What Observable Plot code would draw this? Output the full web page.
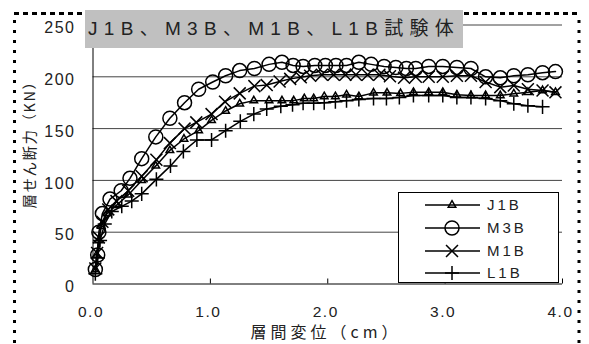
<!DOCTYPE html>
<html><head><meta charset="utf-8">
<script src="https://cdn.jsdelivr.net/npm/d3@7"></script>
<script src="https://cdn.jsdelivr.net/npm/@observablehq/plot@0.6"></script>
<style>
html,body{margin:0;padding:0;background:#fff;}
#wrap{position:relative;width:589px;height:344px;overflow:hidden;}
#wrap > svg, #wrap > div{position:absolute;left:0;top:0;}
</style></head><body><div id="wrap"></div>
<script>
const seriesNames = ["J1B", "M3B", "M1B", "L1B"];
const legendLabels = ["J1B", "M3B", "M1B", "L1B"];
const titleText = "J1B、M3B、M1B、L1B試験体";
const xLabel = "層間変位（cm）";
const yLabel = "層せん断力（KN）";
const xTicks = [0, 1, 2, 3, 4];
const yTicks = [0, 50, 100, 150, 200, 250];

const j1bDisp = [0.02,0.03,0.05,0.07,0.12,0.2,0.3,0.415,0.535,0.655,0.775,0.9,1.01,1.13,1.25,1.37,1.5,1.61,1.71,1.8,1.88,1.97,2.065,2.16,2.265,2.39,2.505,2.62,2.73,2.86,2.98,3.1,3.22,3.345,3.47,3.585,3.705,3.83,3.94];
const j1bLoad = [14,28,42,56,68,76,86,100,114,129,140,148,158,167,174,177,177,177,177,179,179,181,181,182.6,181,184.5,184.5,184,185,185,185,182.6,182,182,182,183.6,185,186.8,185];

const m3bDisp = [0.02,0.04,0.05,0.08,0.145,0.24,0.315,0.415,0.535,0.655,0.78,0.9,1.02,1.13,1.25,1.375,1.5,1.61,1.705,1.79,1.89,1.98,2.07,2.16,2.265,2.37,2.48,2.58,2.67,2.75,2.86,2.98,3.1,3.22,3.345,3.47,3.585,3.705,3.83,3.94];
const m3bLoad = [14,28,50,68,82,90,102,121,142,160,175,188,195,201,206,208,212,214,211,210,211,211,211,211,214,212,210,209,208,208,210,210,209,208,200,199,201,202,204,205];

const m1bDisp = [0.02,0.035,0.05,0.08,0.13,0.2,0.3,0.415,0.54,0.655,0.78,0.88,1.01,1.125,1.25,1.375,1.48,1.59,1.68,1.77,1.85,1.95,2.05,2.15,2.24,2.34,2.44,2.53,2.65,2.75,2.86,2.98,3.1,3.22,3.345,3.47,3.585,3.705,3.83,3.94];
const m1bLoad = [15,30,45,60,72,80,90,104,120,136,150,156,164,176,184,191,192,195.5,198,199.6,201,202,202,202,202,202,202,200.6,199,200,200,200,201,201,195,190,191.6,188,186.8,185];

const l1bDisp = [0.02,0.04,0.06,0.1,0.16,0.245,0.33,0.415,0.54,0.66,0.77,0.885,1.01,1.13,1.255,1.37,1.48,1.6,1.7,1.79,1.88,1.97,2.065,2.16,2.265,2.39,2.5,2.61,2.73,2.86,2.98,3.1,3.22,3.345,3.47,3.585,3.705,3.83];
const l1bLoad = [10,25,42,58,70,75,80,87,101,114,128,139,139,148,157,164,169,171.6,173,174.5,174.5,175,176,177,178,179,179,180,182,182,182,180,180,179,177,174,172,171];

const seriesData = [[j1bDisp, j1bLoad], [m3bDisp, m3bLoad], [m1bDisp, m1bLoad], [l1bDisp, l1bLoad]];
const rows = [];
seriesData.forEach(([ds, fs], i) => ds.forEach((d, k) => rows.push({s: seriesNames[i], d, F: fs[k]})));

const symStyle = {
  J1B: {symbol: "triangle", r: 2.8},
  M3B: {symbol: "circle", r: 7},
  M1B: {symbol: "times", r: 5.5},
  L1B: {symbol: "plus", r: 4.6}
};
const d3Sym = {triangle: d3.symbolTriangle, circle: d3.symbolCircle, times: d3.symbolTimes, plus: d3.symbolPlus};

const W = 589, H = 344;
const font = "'Liberation Sans', 'Noto Sans CJK JP', sans-serif";
const cjk = "'Noto Sans CJK JP', 'Liberation Sans', sans-serif";

const plot = Plot.plot({
  width: W, height: H,
  marginLeft: 92.5, marginRight: 27, marginTop: 24.5, marginBottom: 60.5,
  x: {domain: [0, 4], axis: null},
  y: {domain: [0, 250], axis: null},
  style: {fontFamily: font, background: "transparent", letterSpacing: "1.5px", color: "#222"},
  marks: [
    Plot.ruleY(yTicks.slice(1), {stroke: "#444", strokeWidth: 1}),
    Plot.ruleX(xTicks.slice(1), {stroke: "#000", insetTop: 254}),
    Plot.ruleY([0], {stroke: "#000"}),
    Plot.ruleX([0], {stroke: "#000"}),
    Plot.line(rows, {x: "d", y: "F", z: "s", stroke: "#000", strokeWidth: 1.5}),
    ...seriesNames.map(s => Plot.dot(rows, {
      filter: r => r.s === s, x: "d", y: "F",
      symbol: symStyle[s].symbol, r: symStyle[s].r,
      stroke: "#000", strokeWidth: 1.5, fill: "none"
    })),
    Plot.axisX(xTicks, {tickSize: 0, tickPadding: 21.5, tickFormat: d => d.toFixed(1), fontSize: 15.5, dx: -2, fill: "#222", label: null}),
    Plot.axisY(yTicks, {tickSize: 0, tickPadding: 17.5, fontSize: 16, dy: 3, fill: "#222", label: null})
  ]
});
const wrap = document.getElementById("wrap");
wrap.appendChild(plot);

// frame border + axis titles
const deco = d3.select(wrap).append("svg").attr("width", W).attr("height", H);
deco.append("line").attr("x1", 14).attr("x2", 579).attr("y1", 13.5).attr("y2", 13.5)
  .attr("stroke", "#000").attr("stroke-width", 3).attr("stroke-dasharray", "5,4");
[14.5, 579].forEach(x => deco.append("line").attr("x1", x).attr("x2", x).attr("y1", 20).attr("y2", H + 5)
  .attr("stroke", "#000").attr("stroke-width", 3).attr("stroke-dasharray", "3,7"));
deco.append("text").attr("transform", "translate(35,141) rotate(-90)")
  .attr("text-anchor", "middle").attr("font-family", cjk).attr("font-size", 14.5)
  .attr("letter-spacing", "1.5px").attr("fill", "#222").text(yLabel);
deco.append("text").attr("x", 326).attr("y", 338)
  .attr("text-anchor", "middle").attr("font-family", cjk).attr("font-size", 16)
  .attr("letter-spacing", "4px").attr("fill", "#222").text(xLabel);

// title box
d3.select(wrap).append("div")
  .style("left", "85px").style("top", "10px").style("width", "378px").style("height", "38px")
  .style("background", "#c0c0c0").style("font-family", font).style("font-size", "19px")
  .style("letter-spacing", "6.3px").style("line-height", "38px").style("color", "#222")
  .style("padding-left", "3px").style("box-sizing", "border-box").style("white-space", "nowrap")
  .text(titleText);

// legend
const leg = d3.select(wrap).append("svg").attr("width", W).attr("height", H);
leg.append("rect").attr("x", 398.5).attr("y", 192.5).attr("width", 160).attr("height", 90)
  .attr("fill", "#fff").attr("stroke", "#000").attr("stroke-width", 1);
const rowY = [205, 228, 251, 273];
seriesNames.forEach((s, i) => {
  const g = leg.append("g").attr("transform", `translate(0,${rowY[i]})`);
  g.append("line").attr("x1", 425).attr("x2", 480).attr("stroke", "#000").attr("stroke-width", 1.5);
  const st = symStyle[s];
  g.append("path").attr("transform", "translate(452,0)")
    .attr("d", d3.symbol(d3Sym[st.symbol], Math.PI * st.r * st.r)())
    .attr("fill", "none").attr("stroke", "#000").attr("stroke-width", 1.5);
  g.append("text").attr("x", 487).attr("y", 0).attr("dy", "0.36em")
    .attr("font-family", font).attr("font-size", 15).attr("letter-spacing", "3px")
    .attr("fill", "#222").text(legendLabels[i]);
});
</script></body></html>
